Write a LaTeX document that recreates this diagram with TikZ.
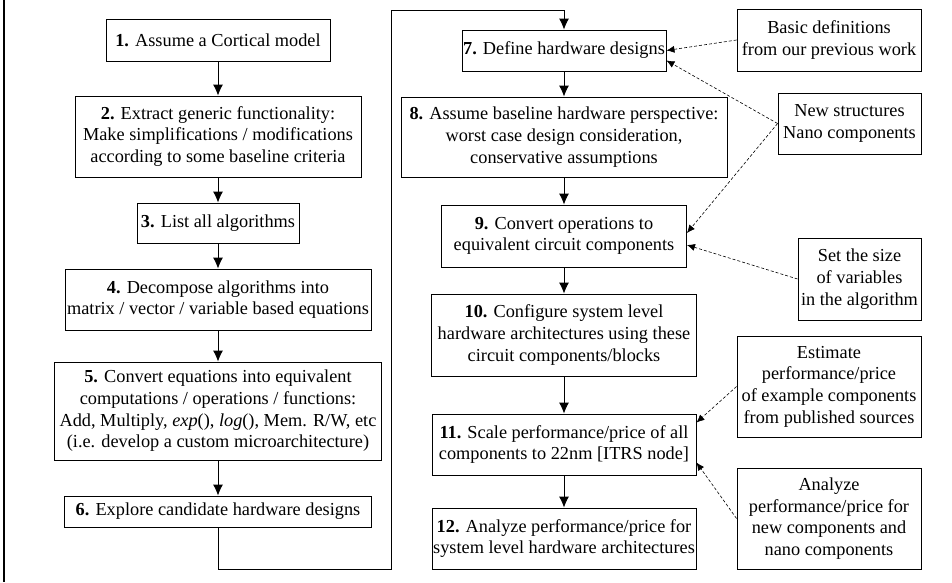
\documentclass[tikz,border=0pt]{standalone}
\usepackage{fontspec}
\setmainfont{Liberation Serif}
\usetikzlibrary{arrows.meta, calc}

\begin{document}
\begin{tikzpicture}[->,>={Latex[length=11pt,width=10pt]},line width=0.9pt,x=1pt,y=-1pt]
	\tikzset{stepbox/.style={draw,rectangle,align=center,inner sep=1pt,font=\fontsize{18.3}{21.7}\selectfont}}
	\tikzset{feed/.style={densely dashed,line width=0.6pt,>={Latex[length=8pt,width=7pt]}}}
	\useasboundingbox (0,0) rectangle (952,582);
	\draw[-,line width=2.5pt] (4,0) -- (4,582);
	% left column
	\node[stepbox, minimum width=224, minimum height=42] (1) at (218,40) {\textbf{1.} Assume a Cortical model};
	\node[stepbox, minimum width=286, minimum height=81] (2) at (218,136.5) {\textbf{2.} Extract generic functionality:\\Make simplifications / modifications\\according to some baseline criteria};
	\node[stepbox, minimum width=162, minimum height=40] (3) at (218,223) {\textbf{3.} List all algorithms};
	\node[stepbox, minimum width=306, minimum height=61] (4) at (218,299.5) {\textbf{4.} Decompose algorithms into\\matrix / vector / variable based equations};
	\node[stepbox, minimum width=327, minimum height=98] (5) at (218,411) {\textbf{5.} Convert equations into equivalent\\computations / operations / functions:\\Add, Multiply, \textit{exp}(), \textit{log}(), Mem. R/W, etc\\(i.e. develop a custom microarchitecture)};
	\node[stepbox, minimum width=307, minimum height=31] (6) at (218,511.5) {\textbf{6.} Explore candidate hardware designs};
	% right column
	\node[stepbox, minimum width=204, minimum height=41] (7) at (564,50.5) {\textbf{7.} Define hardware designs};
	\node[stepbox, minimum width=326, minimum height=80] (8) at (564,137) {\textbf{8.} Assume baseline hardware perspective:\\worst case design consideration,\\conservative assumptions};
	\node[stepbox, minimum width=245, minimum height=62] (9) at (564,236) {\textbf{9.} Convert operations to\\equivalent circuit components};
	\node[stepbox, minimum width=265, minimum height=82] (10) at (564,335) {\textbf{10.} Configure system level\\hardware architectures using these\\circuit components/blocks};
	\node[stepbox, minimum width=264, minimum height=61] (11) at (564,444.5) {\textbf{11.} Scale performance/price of all\\components to 22nm [ITRS node]};
	\node[stepbox, minimum width=264, minimum height=61] (12) at (564,538.5) {\textbf{12.} Analyze performance/price for\\system level hardware architectures};
	% inputs
	\node[stepbox, minimum width=184, minimum height=62] (defs) at (829,40) {Basic definitions\\from our previous work};
	\node[stepbox, minimum width=143, minimum height=61] (nano) at (849.5,123.5) {New structures\\Nano components};
	\node[stepbox, minimum width=123, minimum height=82] (size) at (859.5,279) {Set the size\\of variables\\in the algorithm};
	\node[stepbox, minimum width=184, minimum height=101] (est) at (829,386.5) {Estimate\\performance/price\\of example components\\from published sources};
	\node[stepbox, minimum width=184, minimum height=101] (ana) at (829,518.5) {Analyze\\performance/price for\\new components and\\nano components};
	\path
		(1) edge (2)
		(2) edge (3)
		(3) edge (4)
		(4) edge (5)
		(5) edge (6)
		(7) edge (8)
		(8) edge (9)
		(9) edge (10)
		(10) edge (11)
		(11) edge (12);
	\draw (6.south) -- ++(0,42) -| (391,10) -| (7.north);
	\path
		(defs.west) edge [feed] (7.east)
		(nano.west) edge [feed] ([yshift=-10pt]7.east)
		(nano.west) edge [feed] ([yshift=3pt]9.east)
		(size.west) edge [feed] ([yshift=-9pt]9.east)
		(est.west) edge [feed] ([yshift=-9pt]11.north east)
		(ana.west) edge [feed] ([yshift=13pt]11.south east);
\end{tikzpicture}
\end{document}
